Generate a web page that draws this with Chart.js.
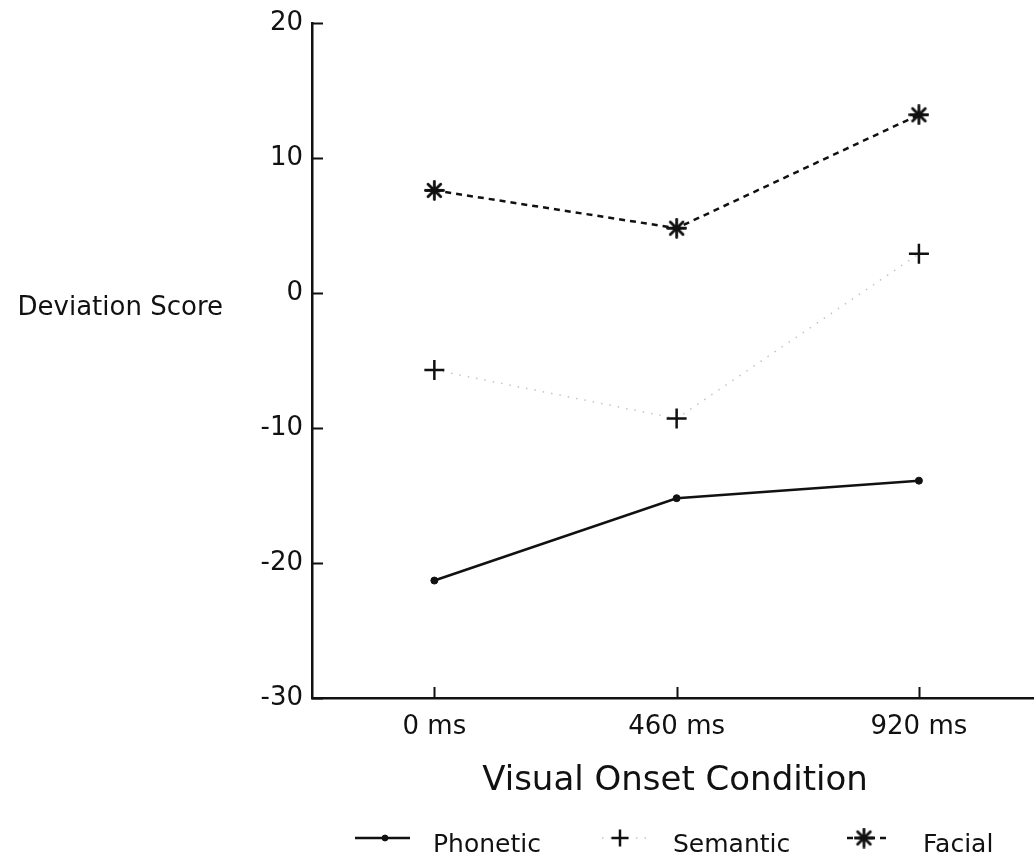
<!DOCTYPE html>
<html>
<head>
<meta charset="utf-8">
<title>Deviation Score by Visual Onset Condition</title>
<script src="https://cdn.jsdelivr.net/npm/chart.js@4.4.1/dist/chart.umd.min.js"></script>
<style>
    html, body { margin: 0; padding: 0; background: #fff; overflow: hidden; }
    #wrap { position: relative; width: 1034px; height: 859px; }
</style>
</head>
<body>
<div id="wrap"><canvas id="onsetChart"></canvas></div>
<script>
const conditions = ['0 ms', '460 ms', '920 ms'];
const phonetic = [-21.3, -15.2, -13.9];
const semantic = [-5.7, -9.3, 2.9];
const facial = [7.6, 4.8, 13.2];
const yTicks = [-30, -20, -10, 0, 10, 20];

const FONT = "'DejaVu Sans', sans-serif";
const INK = '#111';

// typewriter style asterisk used as the Facial marker
function makeAsterisk(size, lineWidth) {
    const c = document.createElement('canvas');
    c.width = c.height = size;
    const g = c.getContext('2d');
    const r = size / 2 - 1.5;
    g.strokeStyle = INK;
    g.lineWidth = lineWidth;
    g.lineCap = 'round';
    g.translate(size / 2, size / 2);
    for (let i = 0; i < 4; i++) {
        const a = i * Math.PI / 4;
        g.beginPath();
        g.moveTo(Math.cos(a) * r, Math.sin(a) * r);
        g.lineTo(-Math.cos(a) * r, -Math.sin(a) * r);
        g.stroke();
    }
    return c;
}
const asterisk = makeAsterisk(21, 2.8);

const toPoints = vals => vals.map((v, i) => ({ x: i, y: v }));

// tick marks sit inside the plot, like the printed original
const innerTicks = {
    id: 'innerTicks',
    afterDraw(chart) {
        const { ctx, chartArea: a, scales: { x, y } } = chart;
        ctx.save();
        ctx.strokeStyle = INK;
        ctx.lineWidth = 2;
        ctx.beginPath();
        y.ticks.forEach(t => {
            const py = Math.round(y.getPixelForValue(t.value)) + 0.5;
            ctx.moveTo(a.left, py);
            ctx.lineTo(a.left + 11, py);
        });
        x.ticks.forEach(t => {
            const px = Math.round(x.getPixelForValue(t.value)) + 0.5;
            ctx.moveTo(px, a.bottom);
            ctx.lineTo(px, a.bottom - 11);
        });
        ctx.stroke();
        ctx.restore();
    }
};

// axis titles and the legend row along the bottom
const labels = {
    id: 'labels',
    afterDraw(chart) {
        const { ctx, scales: { y } } = chart;
        ctx.save();
        ctx.fillStyle = INK;
        ctx.textBaseline = 'alphabetic';

        ctx.font = '26px ' + FONT;
        ctx.textAlign = 'right';
        ctx.fillText('Deviation Score', 223, y.getPixelForValue(0) + 22);

        ctx.font = '34px ' + FONT;
        ctx.textAlign = 'center';
        ctx.fillText('Visual Onset Condition', 675, 790);

        const rowY = 838;
        const items = [
            { ds: 0, from: 355, to: 410, mark: 385, text: 433 },
            { ds: 1, from: 602, to: 647, mark: 620, text: 673 },
            { ds: 2, from: 847, to: 888, mark: 864, text: 923 }
        ];
        ctx.font = '25px ' + FONT;
        ctx.textAlign = 'left';
        items.forEach(it => {
            const d = chart.data.datasets[it.ds];
            ctx.save();
            ctx.strokeStyle = d.borderColor;
            ctx.lineWidth = d.borderWidth;
            ctx.setLineDash(d.borderDash || []);
            ctx.beginPath();
            ctx.moveTo(it.from, rowY);
            ctx.lineTo(it.to, rowY);
            ctx.stroke();
            ctx.restore();
            ctx.strokeStyle = INK;
            ctx.fillStyle = INK;
            ctx.lineWidth = d.pointBorderWidth;
            Chart.helpers.drawPoint(ctx, {
                pointStyle: d.pointStyle,
                radius: d.pointRadius * 0.85,
                borderWidth: d.pointBorderWidth,
                rotation: 0
            }, it.mark, rowY);
            ctx.fillText(d.label, it.text, rowY + 14);
        });
        ctx.restore();
    }
};

new Chart(document.getElementById('onsetChart'), {
    type: 'line',
    data: {
        datasets: [{
            label: 'Phonetic',
            data: toPoints(phonetic),
            borderColor: INK,
            borderWidth: 2.5,
            pointStyle: 'circle',
            pointRadius: 3.5,
            pointBackgroundColor: INK,
            pointBorderColor: INK,
            pointBorderWidth: 1
        }, {
            label: 'Semantic',
            data: toPoints(semantic),
            borderColor: '#c4c4c4',
            borderWidth: 1.5,
            borderDash: [1.5, 7],
            pointStyle: 'cross',
            pointRadius: 10,
            pointBorderColor: INK,
            pointBorderWidth: 2.5
        }, {
            label: 'Facial',
            data: toPoints(facial),
            borderColor: INK,
            borderWidth: 2.5,
            borderDash: [6, 5],
            pointStyle: asterisk,
            pointRadius: 10,
            pointBorderWidth: 2.4
        }]
    },
    options: {
        responsive: true,
        maintainAspectRatio: false,
        animation: false,
        clip: false,
        layout: {
            autoPadding: false,
            padding: { top: 23, right: 0, bottom: 0, left: 0 }
        },
        plugins: {
            legend: { display: false },
            tooltip: { enabled: false }
        },
        scales: {
            x: {
                type: 'linear',
                min: -0.505,
                max: 2.475,
                afterFit: s => {
                    s.height = 161;
                    s.paddingLeft = 0;
                    s.paddingRight = 0;
                },
                afterBuildTicks: s => { s.ticks = conditions.map((_, i) => ({ value: i })); },
                grid: { display: false, drawTicks: false },
                border: { display: true, color: INK, width: 2.5 },
                ticks: {
                    padding: 14,
                    color: INK,
                    font: { family: FONT, size: 26 },
                    callback: v => conditions[v]
                }
            },
            y: {
                min: -30,
                max: 20,
                afterFit: s => {
                    s.width = 312;
                    s.paddingTop = 0;
                    s.paddingBottom = 0;
                },
                afterBuildTicks: s => { s.ticks = yTicks.map(v => ({ value: v })); },
                grid: { display: false, drawTicks: false },
                border: { display: true, color: INK, width: 2.5 },
                ticks: {
                    padding: 9,
                    color: INK,
                    font: { family: FONT, size: 26 }
                }
            }
        }
    },
    plugins: [innerTicks, labels]
});
</script>
</body>
</html>
